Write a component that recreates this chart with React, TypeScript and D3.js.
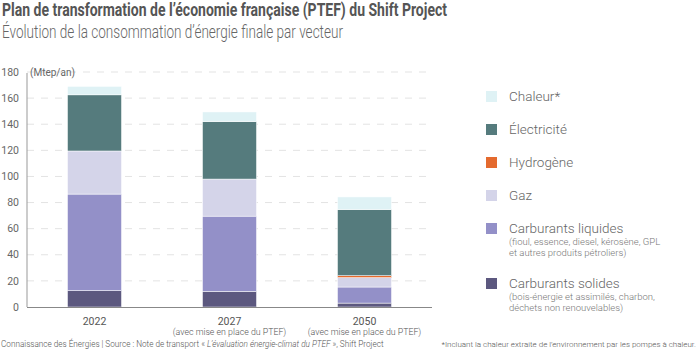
import { useRef, useEffect } from 'react';
import * as d3 from 'd3';

const YEARS = ["2022", "2027", "2050"];
const YEAR_NOTES = ["", "(avec mise en place du PTEF)", "(avec mise en place du PTEF)"];

// stack order, bottom to top
const SERIES = ["solides", "liquides", "gaz", "hydrogene", "electricite", "chaleur"];
const SOLIDES = [12.5, 12, 3];
const LIQUIDES = [74, 57.6, 12.3];
const GAZ = [33, 28.4, 7.2];
const HYDROGENE = [0, 0, 1.5];
const ELECTRICITE = [43, 44, 50.6];
const CHALEUR = [6.5, 7.4, 9.7];

const COLORS = {
  solides: "#5c587f",
  liquides: "#9390c8",
  gaz: "#d4d4e9",
  hydrogene: "#e46a2e",
  electricite: "#557b7d",
  chaleur: "#dff2f5"
};

const LEGEND = [
  { key: "chaleur", label: "Chaleur*", sub: [] },
  { key: "electricite", label: "Électricité", sub: [] },
  { key: "hydrogene", label: "Hydrogène", sub: [] },
  { key: "gaz", label: "Gaz", sub: [] },
  { key: "liquides", label: "Carburants liquides", sub: ["(fioul, essence, diesel, kérosène, GPL", "et autres produits pétroliers)"] },
  { key: "solides", label: "Carburants solides", sub: ["(bois-énergie et assimilés, charbon,", "déchets non renouvelables)"] }
];

const Y_TICKS = [0, 20, 40, 60, 80, 100, 120, 140, 160, 180];

function EnergyChart() {
  const svgRef = useRef(null);

  useEffect(() => {
    const svg = d3.select(svgRef.current);
    svg.selectAll("*").remove();
    const font = "Roboto, sans-serif";

    const rows = YEARS.map((year, i) => ({
      year,
      solides: SOLIDES[i],
      liquides: LIQUIDES[i],
      gaz: GAZ[i],
      hydrogene: HYDROGENE[i],
      electricite: ELECTRICITE[i],
      chaleur: CHALEUR[i]
    }));

    const x = d3.scaleBand().domain(YEARS).range([27, 432]).paddingInner(0.6).paddingOuter(0.3);
    const y = d3.scaleLinear().domain([0, 180]).range([307, 72]);

    // Titles
    svg.append("text").attr("x", 2).attr("y", 16)
      .attr("font-family", font).attr("font-weight", 700).attr("font-size", 17.5)
      .attr("fill", "#555").attr("textLength", 445).attr("lengthAdjust", "spacingAndGlyphs")
      .text("Plan de transformation de l’économie française (PTEF) du Shift Project");
    svg.append("text").attr("x", 2).attr("y", 38)
      .attr("font-family", font).attr("font-weight", 300).attr("font-size", 17.5)
      .attr("fill", "#666").attr("textLength", 341).attr("lengthAdjust", "spacingAndGlyphs")
      .text("Évolution de la consommation d’énergie finale par vecteur");

    // Grid
    svg.append("g").selectAll("line")
      .data(Y_TICKS.filter(d => d > 0))
      .enter().append("line")
      .attr("x1", 27).attr("x2", 432)
      .attr("y1", d => y(d)).attr("y2", d => y(d))
      .attr("stroke", "#e3e3e3").attr("stroke-dasharray", "7,7");

    // Y labels
    svg.append("g").selectAll("text")
      .data(Y_TICKS).enter().append("text")
      .attr("x", 19).attr("y", d => y(d)).attr("dy", "0.35em")
      .attr("text-anchor", "end").attr("font-family", font).attr("font-size", 10.5)
      .attr("fill", "#666").text(d => d);

    svg.append("text").attr("x", 30).attr("y", y(180)).attr("dy", "0.35em")
      .attr("font-family", font).attr("font-size", 10).attr("fill", "#666")
      .text("(Mtep/an)");

    // Bars
    const stack = d3.stack().keys(SERIES)(rows);
    svg.append("g").selectAll("g")
      .data(stack).enter().append("g")
      .attr("fill", d => COLORS[d.key])
      .selectAll("rect")
      .data(d => d.filter(s => s[1] - s[0] > 0))
      .enter().append("rect")
      .attr("x", d => x(d.data.year))
      .attr("width", x.bandwidth())
      .attr("y", d => y(d[1]))
      .attr("height", d => y(d[0]) - y(d[1]))
      .attr("stroke", "#fff").attr("stroke-width", 0.5);

    // Axes lines
    svg.append("line").attr("x1", 27).attr("x2", 27).attr("y1", 73).attr("y2", 307)
      .attr("stroke", "#999");
    svg.append("line").attr("x1", 27).attr("x2", 432).attr("y1", 307.5).attr("y2", 307.5)
      .attr("stroke", "#888");

    // X labels
    const xl = svg.append("g").selectAll("g").data(YEARS).enter().append("g")
      .attr("transform", d => `translate(${x(d) + x.bandwidth() / 2},0)`);
    xl.append("text").attr("y", 325).attr("text-anchor", "middle")
      .attr("font-family", font).attr("font-size", 10.5).attr("fill", "#555")
      .text(d => d);
    xl.append("text").attr("y", 335).attr("text-anchor", "middle")
      .attr("font-family", font).attr("font-weight", 300).attr("font-size", 8.8).attr("fill", "#555")
      .text((d, i) => YEAR_NOTES[i]);

    // Legend
    const legendY = [96, 129, 162, 195, 228, 283];
    const lg = svg.append("g").selectAll("g").data(LEGEND).enter().append("g")
      .attr("transform", (d, i) => `translate(486,${legendY[i]})`);
    lg.append("rect").attr("x", 0).attr("y", -5).attr("width", 11).attr("height", 11)
      .attr("fill", d => COLORS[d.key]);
    lg.append("text").attr("x", 23).attr("y", 0).attr("dy", "0.35em")
      .attr("font-family", font).attr("font-weight", 300).attr("font-size", 13.5).attr("fill", "#666")
      .text(d => d.label);
    lg.each(function (d) {
      d3.select(this).selectAll("text.sub").data(d.sub).enter().append("text")
        .attr("class", "sub").attr("x", 23).attr("y", (s, j) => 14 + j * 11).attr("dy", "0.35em")
        .attr("font-family", font).attr("font-weight", 300).attr("font-size", 9.5).attr("fill", "#777")
        .text(s => s);
    });

    // Footer
    const foot = svg.append("text").attr("x", 1).attr("y", 347)
      .attr("font-family", font).attr("font-weight", 300).attr("font-size", 8.2).attr("fill", "#555");
    foot.append("tspan").text("Connaissance des Énergies | Source :  Note de transport « ");
    foot.append("tspan").attr("font-style", "italic").text("L’évaluation énergie-climat du PTEF");
    foot.append("tspan").text(" », Shift Project");
    svg.append("text").attr("x", 696).attr("y", 347).attr("text-anchor", "end")
      .attr("font-family", font).attr("font-weight", 300).attr("font-size", 8).attr("fill", "#555")
      .text("*Incluant la chaleur extraite de l’environnement par les pompes à chaleur.");
  }, []);

  return <svg ref={svgRef} width={700} height={352}
    style={{ position: "fixed", top: 0, left: 0, background: "#fff" }} />;
}

export default function App() {
  return <EnergyChart />;
}
